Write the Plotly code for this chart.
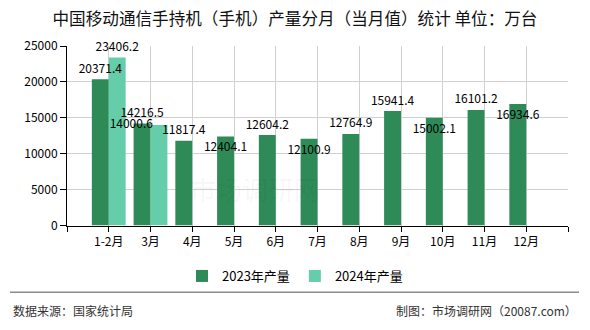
import plotly.graph_objects as go

categories = ["1-2月", "3月", "4月", "5月", "6月", "7月", "8月", "9月", "10月", "11月", "12月"]
values_2023 = [20371.4, 14216.5, 11817.4, 12404.1, 12604.2, 12100.9, 12764.9, 15941.4, 15002.1, 16101.2, 16934.6]
values_2024 = [23406.2, 14000.6, None, None, None, None, None, None, None, None, None]
pos_2023 = ["top center", "top center", "top center", "bottom center", "top center", "bottom center",
            "top center", "top center", "bottom center", "top center", "bottom center"]
pos_2024 = ["top center", "middle left"] + ["top center"] * 9
series_names = ["2023年产量", "2024年产量"]
colors = ["#2E8B57", "#66CDAA"]
y_ticks = [0, 5000, 10000, 15000, 20000, 25000]

W, H = 590, 330
L, R, T, B = 67, 22, 46, 101
pw = W - L - R
ph = H - T - B
BARGAP = 0.19

def px(p):
    return (p - L) / pw

def py(p):
    return (H - B - p) / ph

xs = list(range(len(categories)))
lab_font = dict(family="Noto Sans CJK SC", size=12, color="#000")
half = (1 - BARGAP) / 4  # centre offset of each bar inside its group

def fmt(v):
    return "" if v is None else f"{v:.1f}"

fig = go.Figure()
for name, vals, col in zip(series_names, [values_2023, values_2024], colors):
    fig.add_trace(go.Bar(x=xs, y=vals, name=name,
                         marker=dict(color=col, line=dict(width=0)), hoverinfo="skip"))

for k, (vals, pos) in enumerate([(values_2023, pos_2023), (values_2024, pos_2024)]):
    off = -half if k == 0 else half
    sizes = [4 if p.startswith("top") else 8 for p in pos]
    fig.add_trace(go.Scatter(
        x=[i + off for i in xs], y=vals, mode="markers+text",
        text=[fmt(v) for v in vals], textposition=pos, textfont=lab_font,
        marker=dict(size=sizes, opacity=0), showlegend=False, hoverinfo="skip",
        cliponaxis=False,
    ))

fig.update_layout(
    width=W, height=H, margin=dict(l=L, r=R, t=T, b=B),
    paper_bgcolor="white", plot_bgcolor="white",
    barmode="group", bargap=BARGAP, bargroupgap=0,
    font=dict(family="Noto Sans CJK SC", size=12, color="#000"),
    title=dict(text="中国移动通信手持机（手机）产量分月（当月值）统计 单位：万台",
               x=0.5, xanchor="center", xref="container",
               y=1 - 19 / H, yanchor="middle", yref="container",
               font=dict(family="Noto Sans CJK SC", size=16.6, color="#111")),
    legend=dict(orientation="h", xref="container", yref="container",
                x=0.5, xanchor="center", y=1 - 276 / H, yanchor="middle",
                font=dict(family="Noto Sans CJK SC", size=13, color="#000"),
                itemwidth=30),
    showlegend=True,
)

fig.update_xaxes(
    range=[-1, len(categories)], tickmode="array",
    tickvals=list(range(-1, len(categories) + 1)),
    ticktext=[""] + categories + [""],
    showgrid=True, gridcolor="#d0d0d0", gridwidth=1,
    showline=True, linecolor="#000", linewidth=1,
    ticks="outside", ticklen=5, tickcolor="#000",
    tickfont=dict(family="Noto Sans CJK SC", size=12, color="#000"),
    zeroline=False, fixedrange=True,
)
fig.update_yaxes(
    range=[0, 25000], tickmode="array", tickvals=y_ticks,
    ticktext=[str(v) for v in y_ticks],
    showgrid=True, gridcolor="#d0d0d0", gridwidth=1,
    showline=True, linecolor="#000", linewidth=1,
    ticks="outside", ticklen=6, tickcolor="#000",
    tickfont=dict(family="Noto Sans CJK SC", size=12, color="#000"),
    zeroline=False, fixedrange=True,
)

# watermark
fig.add_annotation(text="市场调研网", xref="paper", yref="paper",
                   x=px(255), y=py(212), showarrow=False,
                   font=dict(family="Noto Sans CJK SC", size=26, color="rgba(0,0,0,0.045)"))

# footer separator
fig.add_shape(type="line", xref="paper", yref="paper",
              x0=px(10), x1=px(579), y0=py(297), y1=py(297),
              line=dict(color="#8c8c8c", width=1.5))
fig.add_annotation(text="数据来源：国家统计局", xref="paper", yref="paper",
                   x=px(11), y=py(316), xanchor="left", yanchor="middle", showarrow=False,
                   font=dict(family="Noto Sans CJK SC", size=12, color="#333"))
fig.add_annotation(text="制图：市场调研网（20087.com）", xref="paper", yref="paper",
                   x=px(579), y=py(316), xanchor="right", yanchor="middle", showarrow=False,
                   font=dict(family="Noto Sans CJK SC", size=12, color="#333"))

fig.write_html("out.html")
